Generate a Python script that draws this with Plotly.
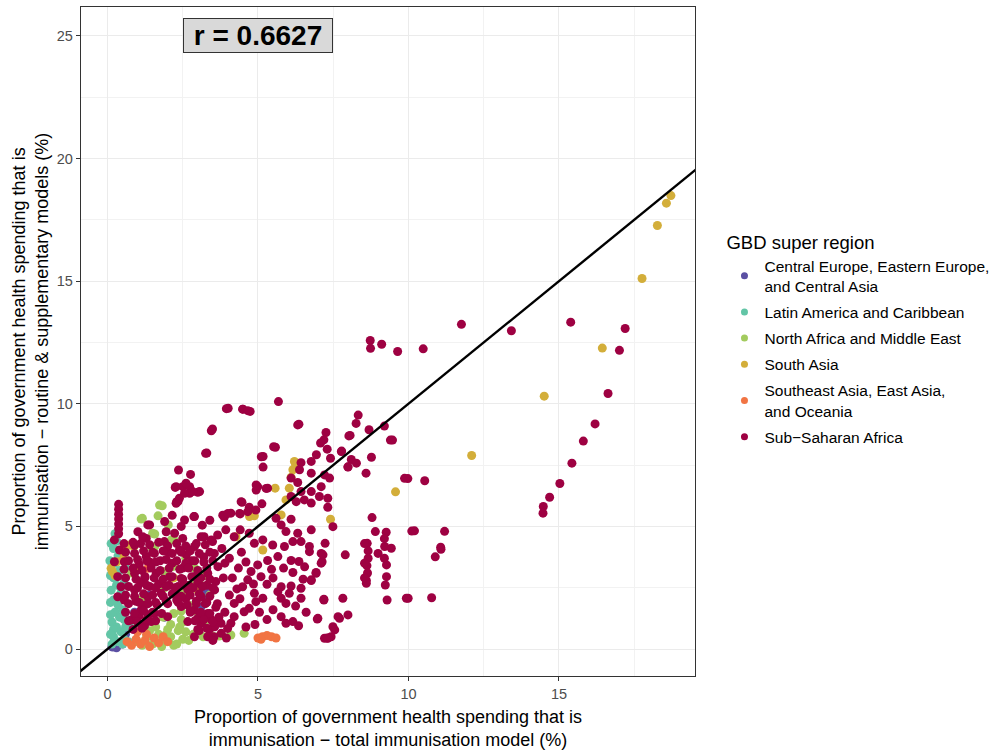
import plotly.graph_objects as go

# ---------------- data ----------------
regions = [
    "Central Europe, Eastern Europe,<br>and Central Asia",
    "Latin America and Caribbean",
    "North Africa and Middle East",
    "South Asia",
    "Southeast Asia, East Asia,<br>and Oceania",
    "Sub\u2212Saharan Africa",
]
region_colors = ["#5B50A3", "#62C5A6", "#A3CB5E", "#D3AE3A", "#F17443", "#9E0142"]

central_europe = [(0.15, 0.1), (0.3, 0.05), (0.9, 1.5), (3.2, 2.1), (3.3, 2.3), (1.9, 1.3),
                  (0.5, 0.2), (1.1, 0.9), (3.1, 1.7), (0.6, 0.6), (1.4, 2.2), (0.25, 0.3),
                  (3.1, 2.4), (0.9, 1.3), (0.17, 0.08)]

latin_america = [(0.25, 4.7), (0.3, 4.4), (0.2, 4.1), (0.35, 3.8), (0.25, 3.5), (0.4, 3.2),
                 (0.2, 2.9), (0.3, 2.6), (0.45, 2.3), (0.2, 2.0), (0.35, 1.8), (0.25, 1.5),
                 (0.4, 1.3), (0.15, 1.1), (0.3, 0.9), (0.45, 0.7), (0.2, 0.5), (0.35, 0.3),
                 (0.55, 0.4), (0.6, 0.9), (0.5, 1.6), (0.55, 2.7), (0.6, 3.3), (0.1, 1.9),
                 (0.1, 3.0), (0.15, 0.2), (0.5, 0.2), (0.7, 0.3), (0.75, 1.1), (0.12, 4.3),
                 (0.2, 0.8), (0.12, 2.4), (0.55, 1.2), (0.1, 0.6), (0.08, 3.6), (0.1, 1.4)]

north_africa = [(1.82, 5.84), (1.16, 5.33), (1.68, 5.43), (2.02, 5.06), (1.57, 4.69), (1.57, 4.18),
                (2.21, 4.45), (1.49, 4.11), (1.73, 5.87), (1.12, 5.3), (3.18, 0.5), (3.71, 0.53),
                (4.1, 0.57), (4.54, 0.64), (3.45, 0.55), (1.0, 0.3), (1.3, 0.5), (1.5, 0.2),
                (1.7, 0.6), (1.9, 0.3), (2.1, 0.5), (2.3, 0.2), (2.5, 0.4), (1.6, 0.9), (2.0, 0.8),
                (2.4, 0.9), (2.6, 0.7), (1.8, 0.1), (2.2, 0.15), (1.4, 0.75), (2.7, 0.35),
                (2.85, 0.6), (1.15, 0.15), (2.5, 2.3), (2.7, 1.8), (3.0, 1.5), (3.1, 2.6),
                (2.9, 3.3), (0.8, 3.1), (1.1, 2.0), (2.6, 3.7), (3.3, 1.2), (3.27, 1.87),
                (2.2, 3.4), (1.9, 2.5), (3.2, 3.0), (2.45, 1.2), (3.4, 2.2), (2.8, 2.6),
                (1.89, 3.15), (2.17, 3.36), (1.5, 4.72), (2.12, 4.45), (1.85, 1.3), (2.1, 1.0),
                (2.35, 0.75), (2.2, 1.45), (2.5, 1.1), (1.95, 0.6), (2.45, 1.55)]

south_asia = [(18.72, 18.49), (18.57, 18.18), (18.27, 17.27), (17.76, 15.11), (16.44, 12.27),
              (14.51, 10.31), (12.1, 7.89), (9.57, 6.41), (6.21, 7.65), (6.16, 7.31), (6.04, 6.56),
              (5.57, 6.56), (5.93, 6.08), (5.77, 5.47), (4.88, 5.43), (7.41, 5.29), (4.27, 4.58),
              (5.16, 4.04), (6.25, 7.5), (6.1, 7.0), (4.72, 5.4), (0.16, 3.16), (0.32, 3.56),
              (0.54, 3.9), (0.88, 4.18), (0.91, 3.22), (0.73, 4.24), (0.12, 3.29), (0.51, 3.63),
              (0.9, 3.29), (0.6, 4.15), (0.25, 3.0), (3.0, 2.4), (2.2, 2.9)]

southeast_asia = [(0.65, 0.3), (0.8, 0.15), (0.95, 0.4), (1.1, 0.2), (1.25, 0.35), (1.4, 0.1),
                  (1.55, 0.45), (1.7, 0.25), (1.85, 0.5), (2.0, 0.3), (1.3, 0.6), (1.0, 0.7),
                  (5.0, 0.45), (5.15, 0.5), (5.3, 0.55), (5.45, 0.5), (5.6, 0.45), (5.1, 0.4),
                  (1.34, 3.29)]

sub_saharan_africa = [
    (15.39, 13.33), (17.2, 13.07), (17.01, 12.18), (16.63, 10.42), (16.2, 9.18), (15.81, 8.48),
    (15.43, 7.58), (15.03, 6.75), (14.69, 6.19), (14.48, 5.81), (14.47, 5.54),
    (11.76, 13.24), (13.42, 12.98), (8.73, 12.58), (8.74, 12.26), (9.11, 12.43), (9.64, 12.13),
    (10.49, 12.24), (8.33, 9.54), (8.26, 9.2), (8.69, 8.94), (9.2, 9.09), (8.06, 8.71),
    (9.47, 8.52), (7.78, 8.07), (8.1, 7.73), (8.27, 7.58), (7.99, 7.43), (8.77, 7.82),
    (8.59, 7.17), (9.98, 6.95), (10.54, 6.86), (8.79, 5.36), (8.9, 4.79), (9.26, 4.76),
    (10.2, 4.82), (11.2, 4.8), (11.07, 4.15), (8.63, 4.31), (9.21, 4.18), (11.08, 4.07),
    (10.89, 3.76), (8.99, 3.9), (9.43, 4.11), (8.66, 4.0), (8.66, 3.7), (8.62, 3.4),
    (8.64, 3.1), (8.6, 2.8), (8.6, 2.68), (9.27, 3.43), (9.27, 2.95), (9.23, 2.61),
    (9.29, 2.0), (9.99, 2.07), (10.77, 2.09), (7.82, 2.07), (7.19, 2.0), (7.99, 1.39),
    (7.71, 1.25), (7.49, 0.91), (7.43, 0.5), (7.21, 0.44), (6.97, 1.22), (7.3, 0.45),
    (7.55, 0.78), (7.32, 0.44), (7.9, 3.84), (7.13, 3.56), (6.93, 3.09), (6.77, 2.82),
    (7.23, 4.31), (7.1, 3.9),
    (5.68, 10.09), (4.01, 9.82), (4.49, 9.78), (4.74, 9.69), (3.49, 8.97), (6.36, 9.17),
    (3.3, 7.99), (5.58, 8.23), (5.17, 7.85), (5.17, 7.42), (7.26, 8.83), (7.19, 8.53),
    (7.08, 8.4), (7.3, 8.15), (7.41, 7.78), (6.94, 7.92), (7.77, 8.05), (8.02, 8.69),
    (7.99, 7.42), (6.43, 7.6), (6.77, 7.65), (6.38, 7.31), (6.1, 6.97), (6.32, 6.79),
    (6.77, 7.17), (7.21, 7.1), (7.38, 6.97), (7.1, 6.62), (6.77, 6.42), (6.43, 6.42),
    (7.32, 6.15), (7.32, 5.78), (7.04, 6.22), (6.77, 5.95), (6.54, 6.08), (6.27, 6.01),
    (6.1, 6.22), (7.49, 4.99), (4.99, 6.62), (5.32, 6.56), (4.47, 5.98), (4.71, 5.78),
    (4.93, 5.67), (5.13, 5.92), (3.88, 5.37), (4.1, 5.54), (4.41, 5.51), (5.6, 5.33),
    (6.1, 5.29), (5.77, 5.06), (5.93, 4.79), (6.32, 4.72), (6.77, 4.86), (6.43, 4.38),
    (6.16, 4.38), (5.88, 4.18), (5.49, 4.24), (5.16, 4.45), (4.88, 4.31), (4.71, 4.72),
    (4.41, 4.86), (4.21, 4.58), (3.93, 4.86), (3.66, 4.65), (3.49, 4.38), (3.21, 4.58),
    (6.71, 3.97), (7.16, 3.84), (7.1, 3.5), (6.71, 4.18), (6.1, 3.61), (6.36, 3.57),
    (5.66, 3.77), (5.32, 3.61), (4.99, 3.43), (4.77, 3.16), (4.66, 2.82), (4.49, 2.54),
    (6.16, 3.12), (6.93, 3.12), (6.77, 2.79), (6.43, 2.48), (6.1, 2.57), (5.77, 2.54),
    (5.3, 2.64), (5.66, 2.34), (6.04, 2.27), (5.77, 2.07), (5.93, 1.86), (6.43, 2.07),
    (7.19, 2.03), (6.99, 1.25), (7.66, 1.32), (5.77, 1.32), (5.93, 1.05), (6.16, 1.12),
    (5.16, 2.07), (4.93, 1.93), (4.88, 2.27), (4.71, 1.66), (4.54, 1.52), (4.21, 1.86),
    (4.21, 1.32), (4.1, 1.05), (3.99, 0.84), (3.77, 1.05), (3.54, 0.5), (3.38, 0.78),
    (4.94, 6.48), (5.27, 6.55), (5.11, 7.84), (5.52, 8.25), (6.32, 9.14), (9.87, 6.96),
    (9.4, 8.52), (10.11, 4.81), (8.54, 4.3), (8.54, 3.5), (8.54, 2.9), (9.2, 4.5), (9.2, 3.7),
    (9.93, 2.07),
    (3.95, 9.8), (4.5, 9.78), (4.66, 9.72), (3.45, 8.9), (3.26, 7.98), (2.36, 7.3),
    (2.76, 7.12), (2.25, 6.59), (2.5, 6.62), (2.73, 6.62), (3.06, 6.42), (2.3, 6.01),
    (2.87, 5.4), (2.56, 5.26), (3.83, 5.46), (4.0, 5.53), (2.28, 6.62), (2.61, 6.76),
    (2.73, 6.35), (2.34, 6.01), (3.0, 6.39), (1.29, 4.51), (1.89, 4.38), (1.4, 5.06),
    (4.39, 5.53), (4.66, 5.6), (4.44, 6.01), (4.94, 6.69),
    (0.37, 5.9), (0.37, 5.7), (0.37, 5.5), (0.37, 5.3), (0.37, 5.1), (0.37, 4.9), (0.37, 4.7),
    (1.01, 4.78), (1.34, 5.06), (1.17, 4.58), (0.9, 4.24), (0.23, 4.45), (0.4, 4.04),
    (0.23, 3.56), (0.56, 3.56), (0.34, 2.95), (0.45, 2.54), (0.34, 2.13), (0.56, 2.0),
    (1.29, 3.77), (1.56, 3.9), (2.0, 3.97), (2.39, 4.04), (2.62, 3.84), (2.89, 4.18),
    (3.11, 4.58), (3.45, 4.45), (2.5, 4.51), (2.23, 4.72), (1.95, 4.78), (2.89, 5.4),
    (2.28, 5.94), (2.39, 6.15), (2.56, 6.35), (2.83, 6.42),
    (0.9, 3.09), (1.23, 2.88), (1.62, 3.09), (2.06, 2.95), (2.45, 2.88), (2.89, 2.95),
    (3.33, 3.09), (3.67, 3.36), (0.9, 2.41), (1.34, 2.13), (1.78, 2.27), (2.23, 2.27),
    (2.67, 2.41), (3.11, 2.13), (3.56, 2.41), (1.12, 1.59), (1.56, 1.45), (2.0, 1.32),
    (2.45, 1.73), (2.89, 1.59), (3.33, 1.45), (2.67, 1.12), (3.11, 1.05), (3.56, 0.91),
    (1.23, 0.95), (2.89, 0.5), (3.33, 0.5), (3.78, 0.64), (1.45, 1.12), (0.79, 1.18),
    (1.05, 3.45), (1.4, 3.55), (1.75, 3.6), (2.15, 3.5), (2.5, 3.3), (2.8, 3.6), (3.2, 3.75),
    (3.55, 3.9), (3.8, 4.1), (3.9, 3.5), (3.85, 2.9), (3.6, 2.75), (3.3, 2.6), (3.0, 2.7),
    (2.7, 2.6), (2.35, 2.55), (2.05, 2.6), (1.7, 2.65), (1.4, 2.55), (1.1, 2.7), (0.95, 1.95),
    (1.25, 1.8), (1.6, 1.9), (1.95, 1.95), (2.3, 2.0), (2.6, 2.05), (2.95, 1.95), (3.25, 1.85),
    (3.6, 1.7), (3.9, 1.5), (1.05, 1.35), (1.35, 1.4),
    (2.75, 1.5), (3.0, 1.25), (3.45, 1.2), (3.7, 1.3), (3.05, 0.75), (3.5, 0.35), (3.95, 0.45),
    (4.05, 2.2), (4.3, 2.45), (4.15, 2.9), (4.35, 3.3), (4.05, 3.7), (4.45, 3.95), (4.6, 3.55),
    (4.85, 2.65), (5.1, 2.95), (5.5, 2.9), (5.45, 3.25), (5.85, 3.3), (6.55, 3.35), (6.5, 2.85),
    (6.25, 1.75), (6.6, 1.5), (6.35, 0.95), (5.5, 1.6), (5.3, 1.2), (4.9, 1.0), (4.6, 0.9),
    (4.4, 2.05), (5.05, 1.5), (1.9, 5.2), (2.15, 5.45), (2.45, 5.0), (3.15, 5.05), (3.4, 5.25),
    # dense core of the cloud
    (0.55, 4.3), (0.85, 4.35), (1.1, 4.3), (1.4, 4.25), (1.7, 4.35), (2.0, 4.2), (2.3, 4.3),
    (2.6, 4.2), (2.95, 4.3), (3.25, 4.25), (0.6, 3.95), (0.9, 3.9), (1.2, 4.0), (1.5, 3.95),
    (1.85, 4.0), (2.15, 3.9), (2.45, 3.95), (2.75, 4.0), (3.05, 3.9), (3.4, 3.95),
    (0.7, 3.6), (1.0, 3.65), (1.3, 3.6), (1.6, 3.55), (1.95, 3.65), (2.3, 3.6), (2.6, 3.5),
    (2.9, 3.6), (3.2, 3.55), (3.5, 3.6), (0.55, 3.25), (0.85, 3.3), (1.15, 3.2), (1.45, 3.3),
    (1.75, 3.2), (2.05, 3.3), (2.4, 3.25), (2.7, 3.3), (3.0, 3.2), (3.3, 3.3),
    (0.6, 2.9), (0.95, 2.85), (1.25, 2.95), (1.55, 2.9), (1.85, 2.85), (2.15, 2.95),
    (2.5, 2.85), (2.8, 2.95), (3.1, 2.9), (3.4, 2.85), (0.7, 2.55), (1.0, 2.5), (1.3, 2.6),
    (1.6, 2.5), (1.95, 2.55), (2.25, 2.5), (2.55, 2.6), (2.85, 2.5), (3.15, 2.55), (3.5, 2.5),
    (0.6, 2.2), (0.9, 2.15), (1.2, 2.25), (1.5, 2.2), (1.85, 2.15), (2.15, 2.25), (2.45, 2.15),
    (2.75, 2.2), (3.05, 2.25), (3.4, 2.15), (0.7, 1.85), (1.05, 1.9), (1.35, 1.85),
    (1.65, 1.8), (2.0, 1.85), (2.35, 1.9), (2.65, 1.8), (2.95, 1.85), (3.3, 1.9), (3.65, 1.85),
    (0.6, 1.5), (0.9, 1.45), (1.2, 1.55), (1.5, 1.5), (1.8, 1.45), (2.75, 1.55), (3.1, 1.5),
    (3.4, 1.45), (0.7, 1.15), (1.0, 1.1), (1.3, 1.2), (1.6, 1.15), (2.9, 1.15), (3.2, 1.2),
    (3.5, 1.1), (0.85, 0.8), (1.15, 0.85), (3.0, 0.8), (3.3, 0.85),
]

region_points = [central_europe, latin_america, north_africa, south_asia,
                 southeast_asia, sub_saharan_africa]

r_value = 0.6627
abline_slope = 1.0
abline_intercept = 0.0

x_ticks = [0, 5, 10, 15]
y_ticks = [0, 5, 10, 15, 20, 25]
x_range = [-0.88, 19.52]
y_range = [-1.1, 26.18]

# ---------------- figure ----------------
FONT = "Liberation Sans, Arial, sans-serif"
fig = go.Figure()

for name, color, pts in zip(regions, region_colors, region_points):
    fig.add_trace(go.Scatter(
        x=[p[0] for p in pts], y=[p[1] for p in pts],
        mode="markers", name=name, legendgroup=name, showlegend=False,
        marker=dict(color=color, size=9, line=dict(width=0)),
    ))

# legend keys (smaller dots, as in the reference legend)
for name, color in zip(regions, region_colors):
    fig.add_trace(go.Scatter(
        x=[None], y=[None], mode="markers", name=name, legendgroup=name,
        marker=dict(color=color, size=7, line=dict(width=0)),
    ))

line_x = [x_range[0] - 1, x_range[1] + 1]
fig.add_trace(go.Scatter(
    x=line_x, y=[abline_intercept + abline_slope * v for v in line_x],
    mode="lines", line=dict(color="black", width=2.4), showlegend=False,
    hoverinfo="skip",
))

fig.add_annotation(
    x=5, y=25, xref="x", yref="y", text=f"<b>r = {r_value}</b>", showarrow=False,
    font=dict(family=FONT, size=28, color="black"),
    bgcolor="#D9D9D9", bordercolor="#333333", borderwidth=1, borderpad=1,
    width=146, height=31,
)

axis_common = dict(
    showgrid=True, gridcolor="#EBEBEB", gridwidth=1.1, zeroline=False,
    showline=True, linecolor="#333333", linewidth=1.4, mirror=True,
    ticks="outside", ticklen=4, tickcolor="#333333", tickwidth=1.1,
    tickfont=dict(family=FONT, size=14.5, color="#4D4D4D"),
)

fig.update_xaxes(
    range=x_range, tickvals=x_ticks, **axis_common,
    minor=dict(tick0=2.5, dtick=5, showgrid=True, gridcolor="#F2F2F2", gridwidth=0.8),
    title=dict(text="Proportion of government health spending that is<br>"
                    "immunisation \u2212 total immunisation model (%)",
               font=dict(family=FONT, size=18, color="black"), standoff=13),
)
fig.update_yaxes(
    range=y_range, tickvals=y_ticks, **axis_common,
    minor=dict(tick0=2.5, dtick=5, showgrid=True, gridcolor="#F2F2F2", gridwidth=0.8),
    title=dict(text="Proportion of government health spending that is<br>"
                    "immunisation \u2212 routine & supplementary models (%)",
               font=dict(family=FONT, size=18, color="black"), standoff=3),
)

fig.update_layout(
    width=996, height=750,
    margin=dict(l=81, r=301, t=7, b=74, autoexpand=False),
    plot_bgcolor="white", paper_bgcolor="white",
    font=dict(family=FONT),
    legend=dict(
        title=dict(text="GBD super region", font=dict(family=FONT, size=18.5, color="black")),
        font=dict(family=FONT, size=15.5, color="black"),
        x=1.048, xanchor="left", y=0.503, yanchor="middle",
        tracegroupgap=3, bgcolor="rgba(0,0,0,0)",
    ),
    showlegend=True,
)

fig.write_html("out.html")
